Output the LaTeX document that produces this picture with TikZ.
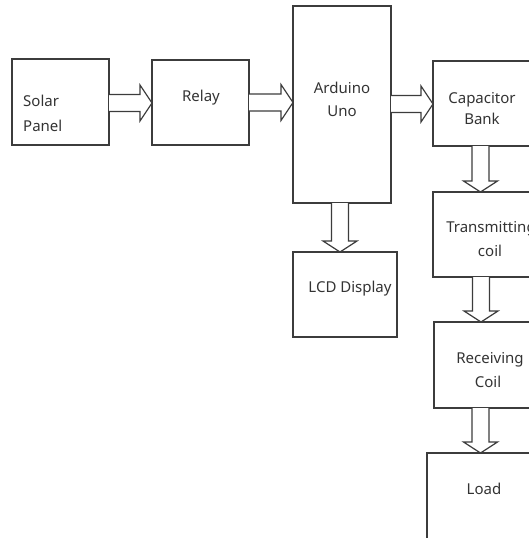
\documentclass[tikz,border=0pt]{standalone}
\usepackage{fontspec}
\setmainfont{Noto Sans}
\definecolor{ln}{HTML}{3C3C3C}
\definecolor{tx}{HTML}{333333}
\newcommand\mkbox[5]{\node[box, minimum width={(#4-#2)*1pt}, minimum height={(#5-#3)*1pt}] (#1) at ({(#2+#4)/2},{(#3+#5)/2}) {};}
\newcommand\harr[3]{%
  \path (#1.east |- 0,#3) coordinate (hs) (#2.west |- 0,#3) coordinate (ht);
  \draw[barrow] ([shift={(0,-8.5)}]hs) -- ([shift={(-12,-8.5)}]ht) -- ([shift={(-12,-18)}]ht) -- (ht)
    -- ([shift={(-12,18)}]ht) -- ([shift={(-12,8.5)}]ht) -- ([shift={(0,8.5)}]hs);}
\newcommand\varr[3]{%
  \path (#1.south -| #3,0) coordinate (vs) (#2.north -| #3,0) coordinate (vt);
  \draw[barrow] ([shift={(-8.5,0)}]vs) -- ([shift={(-8.5,-11)}]vt) -- ([shift={(-17,-11)}]vt) -- (vt)
    -- ([shift={(17,-11)}]vt) -- ([shift={(8.5,-11)}]vt) -- ([shift={(8.5,0)}]vs);}
\begin{document}
\begin{tikzpicture}[x=1pt,y=-1pt,
  box/.style={draw=ln, line width=1.2pt, inner sep=0pt, outer sep=0pt},
  lbl/.style={anchor=base, text=tx, font=\fontsize{15}{18}\selectfont, inner sep=0pt},
  barrow/.style={draw=ln, line width=1.2pt, fill=white, line join=miter}]
\useasboundingbox (0,0) rectangle (528,538);
% boxes
\mkbox{solar}{12}{59}{109}{145}
\mkbox{relay}{152}{60}{249}{145}
\mkbox{ard}{293}{6}{391}{203}
\mkbox{cap}{433}{61}{531}{146}
\mkbox{lcd}{293}{252}{397}{337}
\mkbox{trans}{433}{192}{547}{277}
\mkbox{recv}{434}{322}{547}{408}
\mkbox{load}{427}{453}{541}{560}
% labels
\node[lbl, anchor=base west] (t1) at (23,106) {Solar};
\node[lbl, anchor=base west] (t2) at (23,131) {Panel};
\node[lbl] (t3) at (201,101) {Relay};
\node[lbl] (t4) at (342,93) {Arduino};
\node[lbl] (t5) at (342,116) {Uno};
\node[lbl] (t6) at (482,103) {Capacitor};
\node[lbl] (t7) at (482,124) {Bank};
\node[lbl] (t8) at (350,292) {LCD Display};
\node[lbl] (t9) at (491,232) {Transmitting};
\node[lbl] (t10) at (490,256) {coil};
\node[lbl] (t11) at (490,363) {Receiving};
\node[lbl] (t12) at (488,387) {Coil};
\node[lbl] (t13) at (484,494) {Load};
% block arrows
\harr{solar}{relay}{103}
\harr{relay}{ard}{102.5}
\harr{ard}{cap}{104}
\varr{ard}{lcd}{340}
\varr{cap}{trans}{480.5}
\varr{trans}{recv}{481}
\varr{recv}{load}{480.5}
\end{tikzpicture}
\end{document}
